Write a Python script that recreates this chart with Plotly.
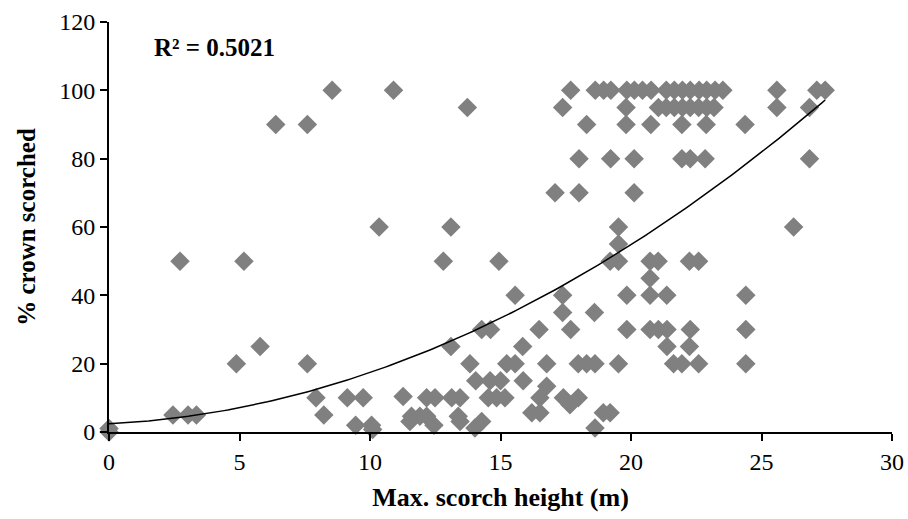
import numpy as np
import plotly.graph_objects as go

# Max. scorch height (m)
scorch_height = [
    0.0, 0.0,
    2.45, 3.03, 3.35, 2.72, 5.17, 4.88, 5.79, 7.6, 7.93, 8.23,
    6.39, 7.6, 8.55, 10.9, 10.35, 9.13, 9.74, 9.45, 10.06, 10.1,
    11.27, 12.17, 12.49, 13.13, 13.45, 11.59, 11.53, 11.91, 12.17, 12.45,
    13.38, 13.45, 14.02, 14.28, 14.05, 14.6, 15.0, 14.53, 14.85, 15.17,
    15.87, 16.77, 16.51, 16.2, 16.51, 17.41, 17.66, 17.98, 18.94, 19.2, 18.62,
    13.73, 13.1, 12.81, 14.94, 13.1, 13.83, 15.24, 15.56, 16.77,
    14.28, 14.62, 16.48, 17.69, 15.85, 15.56, 17.38, 17.38, 18.6, 17.09,
    17.69, 18.63, 18.95, 19.23, 19.84, 20.13, 20.44, 20.77, 21.35, 21.66,
    21.97, 22.27, 22.61, 22.9, 23.22, 23.52, 25.59, 27.12, 27.44,
    17.38, 19.81, 21.05, 21.35, 21.66, 21.97, 22.27, 22.59, 22.9, 23.18, 25.59, 26.84,
    18.3, 19.81, 20.76, 21.95, 22.88, 24.37,
    18.01, 19.22, 20.12, 21.95, 22.27, 22.84, 26.84,
    18.01, 20.12,
    19.52, 26.23, 19.52,
    19.2, 19.52, 20.73, 21.04, 22.24, 22.59,
    20.73,
    19.84, 20.73, 21.37, 24.4,
    19.84, 20.73, 21.05, 21.38, 22.27, 24.4,
    21.38, 22.24,
    17.98, 18.3, 18.62, 19.52, 21.63, 21.95, 22.59, 24.4,
]

# % crown scorched
crown_scorched = [
    0, 1,
    5, 5, 5, 50, 50, 20, 25, 20, 10, 5,
    90, 90, 100, 100, 60, 10, 10, 2, 2, 0.7,
    10.4, 10, 10, 10, 10, 4.6, 3.1, 4.6, 4.6, 2,
    4.6, 3.1, 1.2, 3.1, 15, 15, 15, 10, 10, 10,
    15, 13.4, 10, 5.6, 5.6, 10, 8, 10, 5.6, 5.6, 1.2,
    95, 60, 50, 50, 25, 20, 20, 20, 20,
    30, 30, 30, 30, 25, 40, 40, 35, 35, 70,
    100, 100, 100, 100, 100, 100, 100, 100, 100, 100,
    100, 100, 100, 100, 100, 100, 100, 100, 100,
    95, 95, 95, 95, 95, 95, 95, 95, 95, 95, 95, 95,
    90, 90, 90, 90, 90, 90,
    80, 80, 80, 80, 80, 80, 80,
    70, 70,
    60, 60, 55,
    50, 50, 50, 50, 50, 50,
    45,
    40, 40, 40, 40,
    30, 30, 30, 30, 30, 30,
    25, 25,
    20, 20, 20, 20, 20, 20, 20, 20,
]

# Polynomial (order 2) trendline as drawn in the chart: c0 + c1*x + c2*x^2
trend_coef = [2.4, 0.38, 0.112]
trend_x_end = 27.44

r2_label = "R² = 0.5021"
x_ticks = [0, 5, 10, 15, 20, 25, 30]
y_ticks = [0, 20, 40, 60, 80, 100, 120]

xs = np.array(scorch_height, dtype=float)
ys = np.array(crown_scorched, dtype=float)
trend_x = np.linspace(0, trend_x_end, 200)
trend_y = trend_coef[0] + trend_coef[1] * trend_x + trend_coef[2] * trend_x ** 2

FONT = "Liberation Serif, Times New Roman, serif"

fig = go.Figure()
fig.add_trace(go.Scatter(
    x=xs, y=ys, mode="markers",
    marker=dict(symbol="diamond", size=15, color="#808080", line=dict(width=0)),
    cliponaxis=False, showlegend=False,
))
fig.add_trace(go.Scatter(
    x=trend_x, y=trend_y, mode="lines",
    line=dict(color="black", width=1.5),
    cliponaxis=False, showlegend=False,
))

axis_common = dict(
    showgrid=False, zeroline=False, showline=True, linecolor="black", linewidth=2,
    ticks="outside", ticklen=7, tickwidth=2, tickcolor="black",
    tickfont=dict(family=FONT, size=24, color="black"), automargin=False,
)
fig.update_xaxes(range=[0, 30], tickvals=x_ticks, **axis_common,
                 title=dict(text="<b>Max. scorch height (m)</b>",
                            font=dict(family=FONT, size=26, color="black"), standoff=14))
fig.update_yaxes(range=[0, 120], tickvals=y_ticks, **axis_common,
                 title=dict(text="<b>% crown scorched</b>",
                            font=dict(family=FONT, size=25, color="black"), standoff=16))

fig.add_annotation(text="<b>" + r2_label + "</b>", xref="paper", yref="paper",
                   x=(152 - 109) / 783, y=(432 - 47) / 410, xanchor="left", yanchor="middle",
                   showarrow=False, font=dict(family=FONT, size=25, color="black"))

fig.update_layout(
    width=908, height=519,
    margin=dict(l=109, r=16, t=22, b=87),
    paper_bgcolor="white", plot_bgcolor="white",
)
fig.write_html("out.html")
